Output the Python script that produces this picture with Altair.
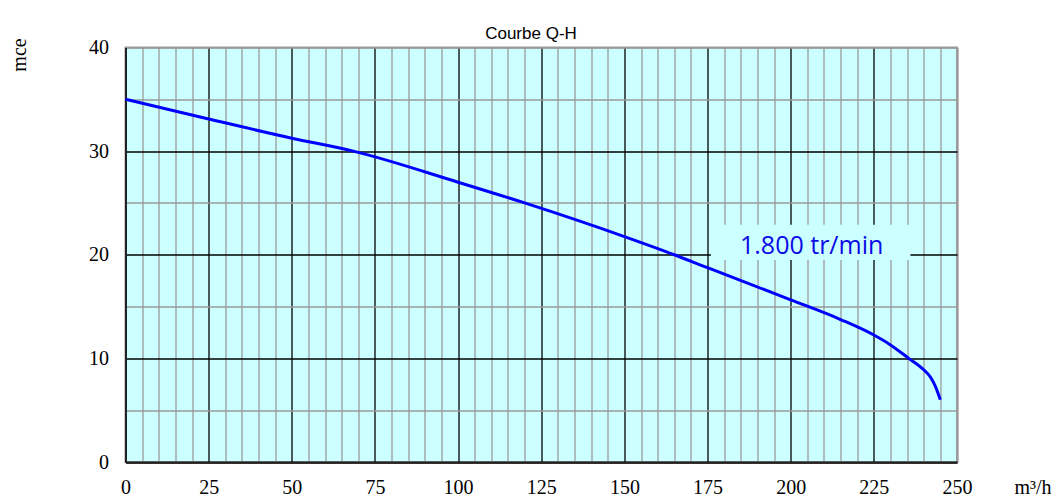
import altair as alt
import pandas as pd

# Curve Q-H (m³/h -> mce)
Q = [0, 25, 50, 68.5, 100, 120, 150, 165, 175, 200, 215, 225, 230, 235.5, 240, 242, 243.5, 245]
H = [35, 33.1, 31.25, 30, 27.0, 25.0, 21.75, 20.0, 18.75, 15.65, 13.75, 12.25, 11.3, 10.0, 8.9, 8.2, 7.3, 6.0]

x_ticks = list(range(0, 251, 5))
y_ticks = list(range(0, 41, 5))

chart_title = ["Courbe Q-H"]
label_text = ["1.800 tr/min"]
label_x = [206.3]
label_y = [20.85]
box_x = [176.0]
box_x2 = [236.0]
box_y = [19.5]
box_y2 = [22.9]

curve = pd.DataFrame({"Q": Q, "H": H})
lab = pd.DataFrame({"t": label_text, "Q": label_x, "H": label_y,
                    "bx": box_x, "bx2": box_x2, "by": box_y, "by2": box_y2,
                    "title": chart_title})

xscale = alt.Scale(domain=[0, 250], nice=False, zero=False)
yscale = alt.Scale(domain=[0, 40], nice=False, zero=False)

xaxis = alt.Axis(
    values=x_ticks,
    labelExpr="datum.value % 25 === 0 ? datum.label : ''",
    grid=True,
    gridColor={"condition": {"test": "datum.value % 25 === 0 && datum.value < 250", "value": "#000000"}, "value": "#9a9a9a"},
    gridWidth=1.3,
    ticks=False, tickSize=0,
    domain=True, domainColor="#222222", domainWidth=2,
    labelFont="Liberation Serif", labelFontSize=20, labelColor="black",
    labelBaseline="middle", labelPadding=25.5, labelAngle=0,
    labelFlush=False, labelOverlap=False,
    title="m³/h", titleFont="Liberation Serif", titleFontSize=20,
    titleFontWeight="normal", titleColor="black",
    titleX=907, titleY=25.5, titleAlign="center", titleBaseline="middle",
    titleAngle=0, zindex=0,
)
yaxis = alt.Axis(
    values=y_ticks,
    labelExpr="datum.value % 10 === 0 ? datum.label : ''",
    grid=True,
    gridColor={"condition": {"test": "datum.value % 10 === 0 && datum.value < 40", "value": "#000000"}, "value": "#9a9a9a"},
    gridWidth=1.3,
    ticks=False, tickSize=0,
    domain=True, domainColor="#222222", domainWidth=2,
    labelFont="Liberation Serif", labelFontSize=20, labelColor="black",
    labelBaseline="middle", labelPadding=17, labelAlign="right",
    labelFlush=False, labelOverlap=False,
    title="mce", titleFont="Liberation Serif", titleFontSize=20,
    titleFontWeight="normal", titleColor="black",
    titleX=-106.5, titleY=7, titleAngle=270, titleAlign="center", titleBaseline="middle",
    zindex=0,
)

X = lambda f: alt.X(f, scale=xscale, axis=xaxis)
Y = lambda f: alt.Y(f, scale=yscale, axis=yaxis)

line = alt.Chart(curve).mark_line(color="#0000ff", strokeWidth=3, interpolate="monotone").encode(
    x=X("Q:Q"), y=Y("H:Q"),
)

box = alt.Chart(lab).mark_rect(color="#ccffff").encode(
    x=X("bx:Q"), x2="bx2:Q", y=Y("by:Q"), y2="by2:Q"
)

txt = alt.Chart(lab).mark_text(
    font="Open Sans", fontSize=25, color="#0a0ae6", baseline="middle", align="center"
).encode(x=X("Q:Q"), y=Y("H:Q"), text="t:N")

ttl = alt.Chart(lab).mark_text(
    font="Liberation Sans", fontSize=17, color="black",
    baseline="middle", align="center"
).encode(x=alt.value(405.5), y=alt.value(-14), text="title:N")

chart = alt.layer(line, box, txt, ttl).properties(
    width=831.5, height=414.5,
    autosize=alt.AutoSizeParams(type="none"),
    padding={"left": 117.5, "top": 39.5, "right": 94, "bottom": 35},
).configure_view(
    fill="#ccffff", stroke="#9a9a9a", strokeWidth=2
)

chart.save("out.html", embed_options={"renderer": "svg", "actions": False})
